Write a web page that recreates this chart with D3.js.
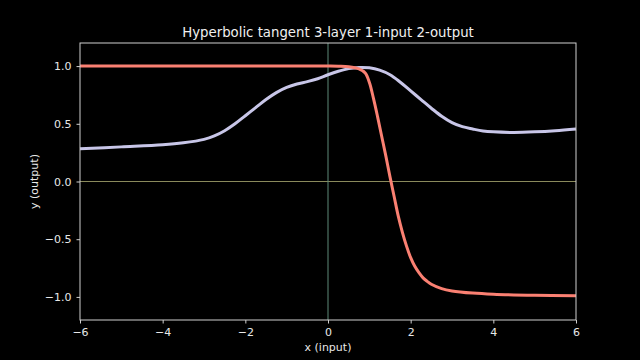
<!DOCTYPE html>
<html><head><meta charset="utf-8">
<script src="https://cdn.jsdelivr.net/npm/d3@7"></script>
<style>body{margin:0;background:#000;}svg{display:block;}</style>
</head><body>
<svg id="c" width="640" height="360"></svg>
<script>
const title = "Hyperbolic tangent 3-layer 1-input 2-output";
const xLabel = "x (input)";
const yLabel = "y (output)";
const xTicks = [-6, -4, -2, 0, 2, 4, 6];
const yTicks = [-1.0, -0.5, 0.0, 0.5, 1.0];

const output1X = [-6,-5,-4,-3.5,-3,-2.75,-2.5,-2.25,-2,-1.75,-1.5,-1.25,-1,-0.75,-0.5,-0.25,0,0.25,0.5,0.75,1,1.25,1.5,1.75,2,2.25,2.5,2.75,3,3.25,3.5,3.75,4,4.5,5,5.5,6];
const output1Y = [0.283,0.300,0.318,0.335,0.365,0.395,0.44,0.50,0.57,0.64,0.71,0.77,0.815,0.845,0.865,0.89,0.925,0.955,0.978,0.988,0.985,0.965,0.925,0.86,0.785,0.71,0.635,0.565,0.51,0.475,0.455,0.438,0.43,0.425,0.43,0.44,0.455];

const output2X = [-6,-4,-2,-1,0,0.25,0.5,0.75,0.9,1.0,1.1,1.2,1.3,1.4,1.5,1.6,1.7,1.8,1.9,2.0,2.1,2.2,2.3,2.4,2.5,2.75,3,3.5,4,5,6];
const output2Y = [1.0,1.0,1.0,1.0,1.0,0.999,0.995,0.975,0.94,0.86,0.72,0.56,0.39,0.22,0.04,-0.13,-0.30,-0.44,-0.56,-0.66,-0.735,-0.79,-0.835,-0.865,-0.89,-0.928,-0.948,-0.967,-0.977,-0.986,-0.99];

const svg = d3.select("#c");
const m = {l:80, r:576, t:43, b:320};
const x = d3.scaleLinear().domain([-6,6]).range([m.l, m.r]);
const y = d3.scaleLinear().domain([-1.2,1.2]).range([m.b, m.t]);
const font = "DejaVu Sans, sans-serif";

svg.append("rect").attr("width",640).attr("height",360).attr("fill","#000");

// zero lines
svg.append("line").attr("x1",x(-6)).attr("x2",x(6)).attr("y1",y(0)).attr("y2",y(0))
  .attr("stroke","#8a8a5c").attr("stroke-width",1);
svg.append("line").attr("x1",x(0)).attr("x2",x(0)).attr("y1",y(-1.2)).attr("y2",y(1.2))
  .attr("stroke","#5e8a78").attr("stroke-width",1);

const line = d3.line().x(d=>x(d[0])).y(d=>y(d[1])).curve(d3.curveCatmullRom.alpha(0.5));
const g = svg.append("g");
g.append("path").datum(output1X.map((v,i)=>[v,output1Y[i]])).attr("d",line)
  .attr("fill","none").attr("stroke","#c8c6e8").attr("stroke-width",3).attr("stroke-linejoin","round");
g.append("path").datum(output2X.map((v,i)=>[v,output2Y[i]])).attr("d",line)
  .attr("fill","none").attr("stroke","#fa8072").attr("stroke-width",3).attr("stroke-linejoin","round");

// spines
svg.append("rect").attr("x",m.l).attr("y",m.t).attr("width",m.r-m.l).attr("height",m.b-m.t)
  .attr("fill","none").attr("stroke","#d0d0d0").attr("stroke-width",1);

const fmtY = d => (d<0?"\u2212":"") + Math.abs(d).toFixed(1);
const fmtX = d => (d<0?"\u2212":"") + Math.abs(d);

const xa = svg.append("g").attr("transform",`translate(0,${m.b})`)
  .call(d3.axisBottom(x).tickValues(xTicks).tickFormat(fmtX).tickSize(3.5).tickPadding(4.5));
const ya = svg.append("g").attr("transform",`translate(${m.l},0)`)
  .call(d3.axisLeft(y).tickValues(yTicks).tickFormat(fmtY).tickSize(3.5).tickPadding(5));
[xa,ya].forEach(a=>{
  a.select(".domain").remove();
  a.selectAll(".tick line").attr("stroke","#d0d0d0");
  a.selectAll("text").attr("fill","#e8e8e8").style("font-family",font).style("font-size","11px");
});

svg.append("text").attr("x",(m.l+m.r)/2).attr("y",36.5).attr("text-anchor","middle")
  .attr("fill","#f0f0f0").style("font-family",font).style("font-size","13.3px").text(title);
svg.append("text").attr("x",(m.l+m.r)/2).attr("y",351).attr("text-anchor","middle")
  .attr("fill","#e8e8e8").style("font-family",font).style("font-size","11px").text(xLabel);
svg.append("text").attr("transform",`translate(38,${(m.t+m.b)/2}) rotate(-90)`).attr("text-anchor","middle")
  .attr("fill","#e8e8e8").style("font-family",font).style("font-size","11px").text(yLabel);
</script>
</body></html>
